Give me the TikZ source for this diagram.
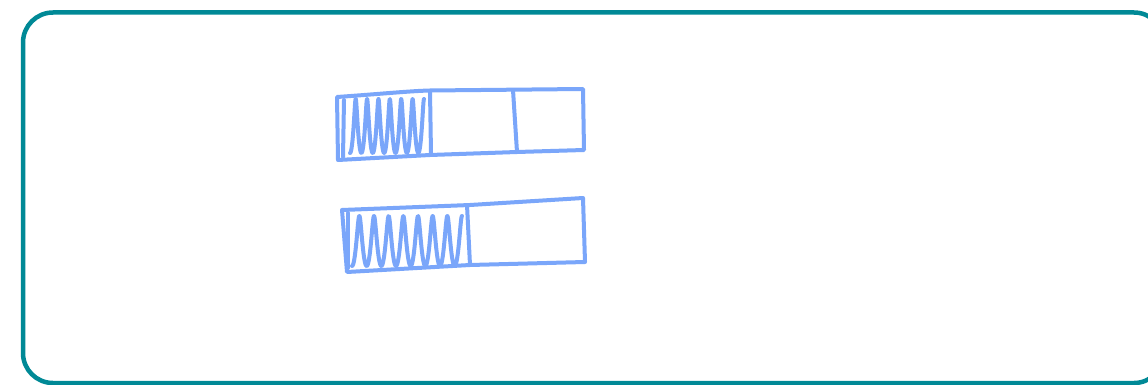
\documentclass[tikz,border=0pt]{standalone}
\definecolor{frameteal}{RGB}{0,137,150}
\definecolor{sketchblue}{RGB}{122,166,250}
\begin{document}
\begin{tikzpicture}[x=1pt,y=-1pt,
  frame/.style={draw=frameteal,line width=4.5pt,rounded corners=30pt},
  sketch/.style={draw=sketchblue,line width=4pt,line cap=round,line join=round}]
\clip (0,0) rectangle (1148,385);
\fill[white] (0,0) rectangle (1148,385);
\draw[frame] (23,12.5) rectangle (1164,383);
% bar 1
\draw[sketch] (337,97) .. controls (380,94) and (410,91) .. (430,90.5) -- (583,89) -- (584,150) -- (517,152) -- (430,155) -- (338,160) -- cycle;
\draw[sketch] (344,100) -- (343,157);
\draw[sketch] (430,91) -- (431,154);
\draw[sketch] (513,90) -- (517,152);
\draw[sketch] plot[smooth,domain=0:2340,samples=260,variable=\t] ({350+(\t/2340)*74+0.8*sin(\t)},{126+27*cos(\t)});
% bar 2
\draw[sketch] (342,210) -- (470,205) -- (583,198) -- (585,262) -- (470,265) -- (347,272) -- cycle;
\draw[sketch] (348,213) -- (348,268);
\draw[sketch] (467,205) -- (470,265);
\draw[sketch] plot[smooth,domain=0:2700,samples=300,variable=\t] ({352+(\t/2700)*110+0.8*sin(\t)},{241+25*cos(\t)});
\end{tikzpicture}
\end{document}
